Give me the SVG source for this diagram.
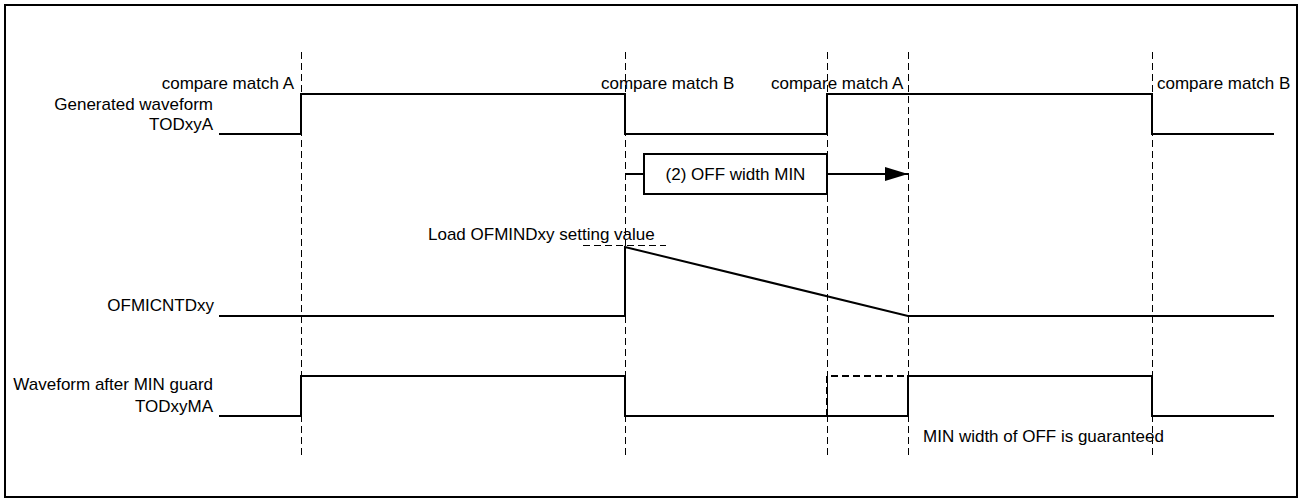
<svg xmlns="http://www.w3.org/2000/svg" width="1301" height="502" viewBox="0 0 1301 502">
<style>
text{font-family:"Liberation Sans",Arial,sans-serif;font-size:17px;fill:#000}
.r{text-anchor:end}
.sig{fill:none;stroke:#000;stroke-width:2}
.guide{fill:none;stroke:#000;stroke-width:1;stroke-dasharray:7,4}
.dash2{fill:none;stroke:#000;stroke-width:2;stroke-dasharray:7,4}
</style>
<defs>
<marker id="ah" markerWidth="24" markerHeight="16" refX="23" refY="8" orient="auto" markerUnits="userSpaceOnUse">
<path d="M0,1 L23,8 L0,15 Z" fill="#000"/>
</marker>
</defs>
<rect x="5" y="5" width="1292" height="492" fill="#fff" stroke="#000" stroke-width="2"/>
<g id="guides">
<line class="guide" x1="301.5" y1="52" x2="301.5" y2="458"/>
<line class="guide" x1="625.5" y1="52" x2="625.5" y2="458"/>
<line class="guide" x1="827.5" y1="52" x2="827.5" y2="458"/>
<line class="guide" x1="908.5" y1="52" x2="908.5" y2="458"/>
<line class="guide" x1="1152.5" y1="52" x2="1152.5" y2="458"/>
</g>
<g id="labels">
<text class="r" x="294" y="89">compare match A</text>
<text x="601" y="89">compare match B</text>
<text x="771" y="89">compare match A</text>
<text x="1157" y="89">compare match B</text>
</g>
<g id="todxya">
<text class="r" x="213" y="110">Generated waveform</text>
<text class="r" x="213" y="130">TODxyA</text>
<polyline class="sig" points="219,134 301,134 301,94 625,94 625,134 827,134 827,94 1152,94 1152,134 1274,134"/>
</g>
<g id="offwidth">
<rect x="644" y="154" width="183" height="40" fill="#fff" stroke="#000" stroke-width="2"/>
<text x="735.5" y="180" text-anchor="middle">(2) OFF width MIN</text>
</g>
<g id="connectors">
<line class="sig" x1="625" y1="174" x2="644" y2="174"/>
<line class="sig" x1="827" y1="174" x2="908" y2="174" marker-end="url(#ah)"/>
</g>
<g id="ofmicntdxy">
<text class="r" x="214" y="311">OFMICNTDxy</text>
<text x="428" y="240">Load OFMINDxy setting value</text>
<line class="guide" x1="583" y1="245.5" x2="666" y2="245.5"/>
<polyline class="sig" points="219,316 625,316 625,247 908,316 1274,316"/>
</g>
<g id="todxyma">
<text class="r" x="213" y="390">Waveform after MIN guard</text>
<text class="r" x="213" y="412">TODxyMA</text>
<polyline class="sig" points="219,416 301,416 301,376 625,376 625,416 908,416 908,376 1152,376 1152,416 1274,416"/>
<polyline class="dash2" points="827,416 827,376 908,376"/>
<text x="923" y="442">MIN width of OFF is guaranteed</text>
</g>
</svg>
